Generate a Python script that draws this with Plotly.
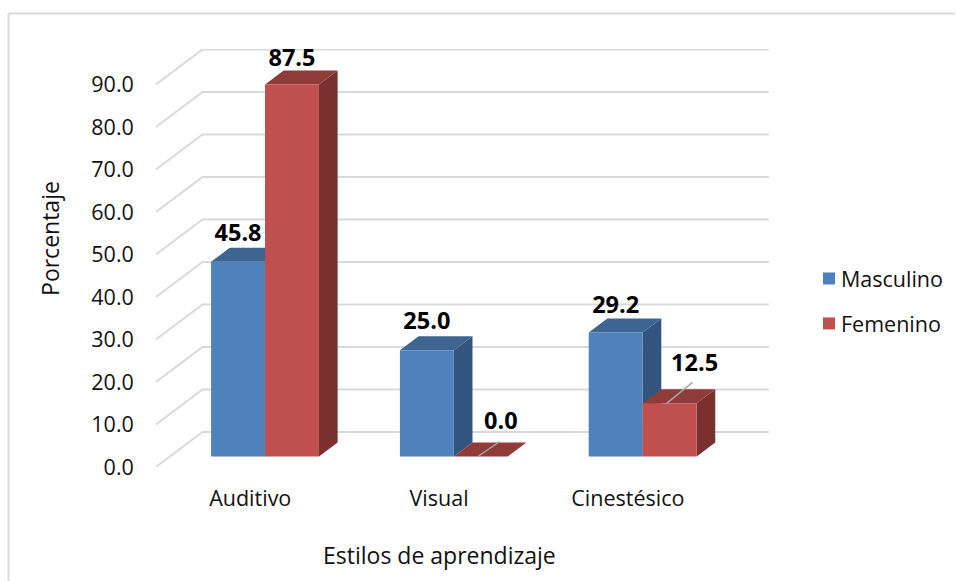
import plotly.graph_objects as go

categories = ["Auditivo", "Visual", "Cinestésico"]
masculino = [45.8, 25.0, 29.2]
femenino = [87.5, 0.0, 12.5]
tick_values = [0, 10, 20, 30, 40, 50, 60, 70, 80, 90]

W, H = 956, 581
PLOT_L, PLOT_R, PLOT_T, PLOT_B = 156, 769.7, 49, 467
DX, DY = 0.247, 8.235            # full floor depth in axis units
FRONT, BACK = 0.3, 0.7           # bar depth span as fraction of floor depth
BAR_W = 54 / 189
X_RANGE = [0, 3.247]
Y_RANGE = [0, 98.35]
FONT = "Open Sans"
INK = "#111111"

fig = go.Figure()

# Back wall gridlines
gx, gy = [], []
for v in tick_values:
    gx += [0, DX, 3 + DX, None]
    gy += [v, v + DY, v + DY, None]
fig.add_trace(go.Scatter(x=gx, y=gy, mode="lines", line=dict(color="#D9D9D9", width=2),
                         hoverinfo="skip", showlegend=False, cliponaxis=False))

sx = (BACK - FRONT) * DX
sy = (BACK - FRONT) * DY
fx = FRONT * DX
fy = FRONT * DY


def left_edge(i, k):
    return i + 0.5 + fx + (k - 1) * BAR_W + 0.8 / 189


def face(xs, ys, color):
    fig.add_trace(go.Scatter(x=xs, y=ys, mode="lines", fill="toself", fillcolor=color,
                             line=dict(width=0, color=color), hoverinfo="skip",
                             showlegend=False, cliponaxis=False))


for k, (vals, top_c, side_c) in enumerate([(masculino, "#3E6591", "#32547F"),
                                           (femenino, "#8F3B39", "#7A302E")]):
    for i, v in enumerate(vals):
        x0 = left_edge(i, k)
        x1 = x0 + BAR_W
        yt = v + fy
        face([x1, x1 + sx, x1 + sx, x1, x1], [fy, fy + sy, yt + sy, yt, fy], side_c)
        face([x0, x1, x1 + sx, x0 + sx, x0], [yt, yt, yt + sy, yt + sy, yt], top_c)

# Front faces on an overlaying axis pair, so they sit above the side faces
for k, (name, vals, color) in enumerate([("Masculino", masculino, "#4F81BD"),
                                         ("Femenino", femenino, "#C0504D")]):
    fig.add_trace(go.Bar(x=[left_edge(i, k) + BAR_W / 2 for i in range(3)], y=vals,
                         base=[fy] * 3, width=BAR_W, name=name, legendgroup=name,
                         marker=dict(color=color, line=dict(width=0)),
                         xaxis="x2", yaxis="y2", hoverinfo="name+y"))

# Leader lines for the two labels moved off their bars
lead = [(1, femenino[1], 15 / 4.25, 22 / 189), (2, femenino[2], 21 / 4.25, 26 / 189)]
lx, ly = [], []
for i, v, rise, run in lead:
    x0 = left_edge(i, 1) + BAR_W / 2 - 3 / 189
    lx += [x0, x0 + run, None]
    ly += [v + fy, v + fy + rise, None]
fig.add_trace(go.Scatter(x=lx, y=ly, mode="lines", line=dict(color="#A6A6A6", width=1.5),
                         hoverinfo="skip", showlegend=False, xaxis="x2", yaxis="y2", cliponaxis=False))

# Data labels
label_dx = [[0, 0, 0], [0, 20 / 189, 25 / 189]]
label_dy = [[27, 27, 25], [25, 33, 38]]
for k, vals in enumerate([masculino, femenino]):
    fig.add_trace(go.Scatter(
        x=[left_edge(i, k) + BAR_W / 2 + label_dx[k][i] for i in range(3)],
        y=[vals[i] + fy + label_dy[k][i] / 4.25 for i in range(3)],
        text=[f"{v:.1f}" for v in vals], mode="text", textposition="middle center",
        textfont=dict(family=FONT, size=23.5, color="#000000"),
        texttemplate="<b>%{text}</b>", hoverinfo="skip", showlegend=False,
        xaxis="x2", yaxis="y2", cliponaxis=False))


def px(x):
    return x / W


def py(y):
    return 1 - y / H


x_domain = [px(PLOT_L), px(PLOT_R)]
y_domain = [py(PLOT_B), py(PLOT_T)]
frame = dict(type="line", xref="paper", yref="paper", layer="below",
             line=dict(color="#D9D9D9", width=2))
title = dict(xref="paper", yref="paper", showarrow=False, xanchor="center", yanchor="middle",
             font=dict(family=FONT, size=23, color=INK))
fig.update_layout(
    width=W, height=H, autosize=False,
    margin=dict(l=0, r=0, t=0, b=0, pad=0),
    paper_bgcolor="white", plot_bgcolor="white",
    font=dict(family=FONT, size=21.5, color=INK),
    barmode="overlay",
    xaxis=dict(domain=x_domain, range=X_RANGE, tickmode="array", tickvals=[0.5, 1.5, 2.5],
               ticktext=categories, showgrid=False, zeroline=False, showline=False, ticks="",
               ticklabelstandoff=16, tickfont=dict(size=21.5), automargin=False),
    yaxis=dict(domain=y_domain, range=Y_RANGE, tickmode="array", tickvals=tick_values,
               ticktext=[f"{v:.1f}" for v in tick_values],
               showgrid=False, zeroline=False, showline=False, ticks="", ticklabelstandoff=21,
               tickfont=dict(size=21.5), automargin=False),
    xaxis2=dict(domain=x_domain, range=X_RANGE, overlaying="x", visible=False),
    yaxis2=dict(domain=y_domain, range=Y_RANGE, overlaying="y", visible=False),
    legend=dict(x=px(810), y=py(258), xanchor="left", yanchor="top", traceorder="grouped",
                tracegroupgap=14, font=dict(size=21.5), bgcolor="rgba(0,0,0,0)",
                entrywidth=95, entrywidthmode="pixels"),
    shapes=[dict(frame, x0=px(8.5), x1=px(956), y0=py(13.5), y1=py(13.5)),
            dict(frame, x0=px(8.5), x1=px(8.5), y0=py(13.5), y1=py(581))],
    annotations=[dict(title, text="Estilos de aprendizaje", x=px(440), y=py(555)),
                 dict(title, text="Porcentaje", x=px(50), y=py(238), textangle=-90)],
)

post = """
document.body.style.margin='0';document.body.style.overflow='hidden';
setTimeout(function(){
  document.querySelectorAll('.legendtext').forEach(function(t){t.setAttribute('x','32');});
},0);
"""
fig.write_html("out.html", post_script=post, config={"displayModeBar": False})
